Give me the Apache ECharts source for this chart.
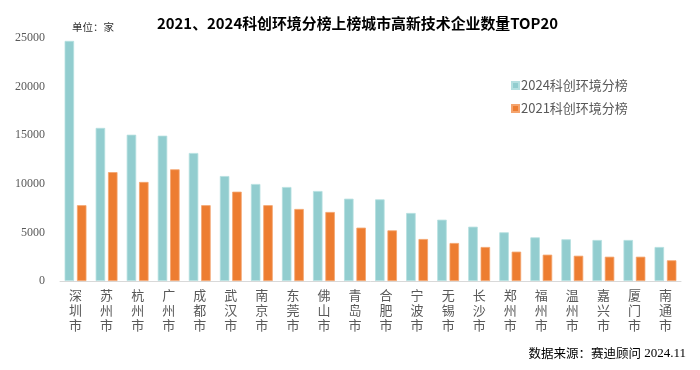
<!DOCTYPE html>
<html>
<head>
<meta charset="utf-8">
<script src="https://cdn.jsdelivr.net/npm/echarts@6/dist/echarts.min.js"></script>
<style>html,body{margin:0;padding:0;background:#fff;}#c{width:700px;height:370px;}</style>
</head>
<body>
<div id="c"></div>
<script>
var categories = ['深圳市','苏州市','杭州市','广州市','成都市','武汉市','南京市','东莞市','佛山市','青岛市','合肥市','宁波市','无锡市','长沙市','郑州市','福州市','温州市','嘉兴市','厦门市','南通市'];
var series2024 = [24700,15750,15050,14950,13170,10800,9980,9670,9260,8470,8400,7000,6310,5590,5010,4490,4290,4220,4220,3500];
var series2021 = [7800,11200,10190,11490,7800,9190,7800,7410,7100,5490,5210,4320,3910,3500,3020,2710,2600,2500,2500,2130];
var yTicks = [0,5000,10000,15000,20000,25000];
var seriesNames = ['2024科创环境分榜','2021科创环境分榜'];
var titleText = '2021、2024科创环境分榜上榜城市高新技术企业数量TOP20';
var unitText = '单位：家';
var sourceLabel = '数据来源：赛迪顾问';
var sourceDate = '2024.11';

var chart = echarts.init(document.getElementById('c'));
chart.setOption({
  animation: false,
  backgroundColor: '#fff',
  title: {
    text: titleText,
    left: 152, top: 11,
    textStyle: {fontFamily: 'Noto Sans CJK SC', fontSize: 14.9, fontWeight: 'bold', color: '#000'}
  },
  graphic: [
    {type: 'text', left: 72, top: 22, style: {text: unitText, font: '10.5px "Noto Sans CJK SC"', fill: '#333'}},
    {type: 'text', right: 14, top: 347, style: {
      text: '{a|' + sourceLabel + '} {b|' + sourceDate + '}',
      rich: {
        a: {fontFamily: 'Noto Sans CJK SC', fontSize: 12.5, fill: '#000', color: '#000'},
        b: {fontFamily: 'Liberation Serif', fontSize: 13, fill: '#000', color: '#000'}
      }
    }}
  ],
  legend: {
    orient: 'vertical',
    left: 506, top: 74,
    itemWidth: 7, itemHeight: 7, itemGap: 10,
    icon: 'rect',
    textStyle: {fontFamily: 'Noto Sans CJK SC', fontSize: 13, color: '#595959', padding: [0,0,0,-3]},
    data: seriesNames
  },
  grid: {left: 60, right: 19, top: 38, bottom: 89, containLabel: false},
  xAxis: {
    type: 'category',
    data: categories,
    axisLine: {lineStyle: {color: '#d9d9d9', width: 1}},
    axisTick: {show: false},
    axisLabel: {
      interval: 0, margin: 7,
      fontFamily: 'Noto Sans CJK SC', fontSize: 13, color: '#595959', lineHeight: 15,
      formatter: function (v) { return v.split('').join('\n'); }
    }
  },
  yAxis: {
    type: 'value',
    min: yTicks[0], max: yTicks[yTicks.length - 1], interval: 5000,
    splitLine: {show: false},
    axisLine: {show: false},
    axisTick: {show: false},
    axisLabel: {fontFamily: 'Liberation Serif', fontSize: 12, color: '#595959', margin: 15,
      formatter: function (v) { return String(v); }}
  },
  series: [
    {name: seriesNames[0], type: 'bar', data: series2024, barWidth: 9.5, barGap: '30%',
     itemStyle: {color: '#92CDCF', borderColor: '#B5DFE0', borderWidth: 0.8}},
    {name: seriesNames[1], type: 'bar', data: series2021, barWidth: 9.5, barGap: '30%',
     itemStyle: {color: '#ED7D31', borderColor: '#F4A46E', borderWidth: 0.8}}
  ]
});
</script>
</body>
</html>
